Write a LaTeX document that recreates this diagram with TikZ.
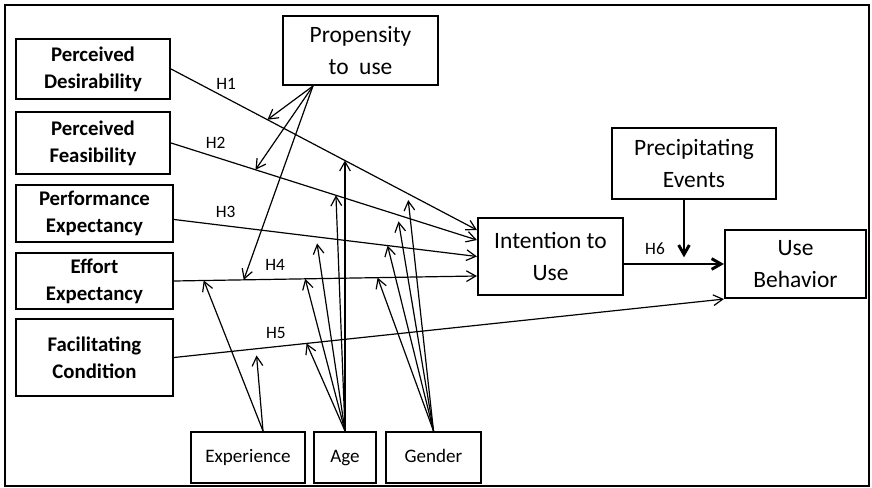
\documentclass[tikz,border=0pt]{standalone}
\usepackage{fontspec}
\setmainfont{Carlito}
\usetikzlibrary{positioning,arrows.meta,calc}

\begin{document}
\begin{tikzpicture}[x=0.75pt, y=-0.75pt, >={Straight Barb[length=7pt,width=8pt]},
  factor/.style={draw, line width=1.6pt, align=center, inner sep=0pt,
    font=\fontsize{15.6}{20.3}\selectfont\bfseries},
  construct/.style={draw, line width=1.6pt, align=center, inner sep=0pt,
    font=\fontsize{17.6}{23.5}\selectfont},
  moder/.style={draw, line width=1.6pt, inner sep=0pt, minimum height=38.25pt,
    text height=10pt, text depth=3pt, font=\fontsize{14.3}{17}\selectfont},
  wsize/.style 2 args={minimum width=#1, minimum height=#2},
  hyp/.style={->, line width=0.9pt},
  hlab/.style={above=2.5pt, font=\fontsize{13}{15}\selectfont}]
  \useasboundingbox (0,0) rectangle (872,488);
  \draw[line width=1.8pt] (5,5) rectangle (869,486);
  % antecedents
  \node[factor, wsize={115.5pt}{45pt}] (pd) at (93,69) {Perceived\\Desirability};
  \node[factor, wsize={115.5pt}{46.5pt}] (pf) at (93,143) {Perceived\\Feasibility};
  \node[factor, wsize={117.75pt}{42.75pt}] (pe) at (94.5,213.5) {Performance\\Expectancy};
  \node[factor, wsize={117.75pt}{42pt}] (ee) at (94.5,281) {Effort\\Expectancy};
  \node[factor, wsize={117.75pt}{57.75pt}] (fc) at (94.5,357.5) {Facilitating\\Condition};
  % constructs
  \node[construct, wsize={116.25pt}{51.75pt}] (prop) at (360.5,50.5) {Propensity\\to\ \ use};
  \node[construct, wsize={108.75pt}{57.75pt}] (itu) at (550.5,256.5) {Intention to\\Use};
  \node[construct, wsize={123pt}{53.25pt}] (pev) at (694,163.5) {Precipitating\\Events};
  \node[construct, wsize={105.75pt}{51pt}] (ub) at (795.5,264) {Use\\Behavior};
  % moderators
  \node[moder, minimum width=85.5pt] (exp) at (248,457.5) {Experience};
  \node[moder, minimum width=46.5pt] (age) at (345,457.5) {Age};
  \node[moder, minimum width=71.25pt] (gen) at (433.5,457.5) {Gender};
  \coordinate (pfoot) at ($(prop.south west)+(31,0)$);
  \coordinate (xfoot) at ($(exp.north)+(15,0)$);
  % hypotheses H1..H5
  \draw[hyp] (pd.east) -- node[hlab, pos=.18] {H1}
    coordinate[pos=.315] (h1p) coordinate[pos=.568] (h1a) coordinate[pos=.773] (h1g)
    ($(itu.west)+(0,-26.5)$);
  \draw[hyp] (pf.east) -- node[hlab, pos=.146] {H2}
    coordinate[pos=.276] (h2p) coordinate[pos=.539] (h2a) coordinate[pos=.74] (h2g)
    ($(itu.west)+(0,-16.5)$);
  \draw[hyp] ($(pe.east)+(0,6)$) -- node[hlab, pos=.17] {H3}
    coordinate[pos=.469] (h3a) coordinate[pos=.705] (h3g)
    (itu.west);
  \draw[hyp] (ee.east) -- node[hlab, pos=.334] {H4}
    coordinate[pos=.098] (h4x) coordinate[pos=.23] (h4p) coordinate[pos=.433] (h4a)
    coordinate[pos=.672] (h4g)
    ($(itu.west)+(0,19.5)$);
  \draw[hyp] (fc.east) -- node[hlab, pos=.185] {H5}
    coordinate[pos=.149] (h5x) coordinate[pos=.241] (h5a)
    (ub.south west);
  % H6 and precipitating events
  \draw[->, line width=2.2pt] (itu.east |- ub.west) -- node[hlab, pos=.31] {H6}
    coordinate[pos=.6] (h6m) (ub.west);
  \draw[->, line width=2.2pt, shorten >=5pt] (pev.south -| h6m) -- (h6m);
  % propensity to use
  \draw[hyp] (pfoot) -- (h1p); \draw[hyp] (pfoot) -- (h2p); \draw[hyp] (pfoot) -- (h4p);
  % experience
  \draw[hyp] (xfoot) -- (h4x); \draw[hyp, shorten >=5pt] (xfoot) -- (h5x);
  % age
  \draw[hyp] (age.north) -- (age.north |- h1a);
  \draw[hyp] (age.north) -- (h2a); \draw[hyp, shorten >=5pt] (age.north) -- (h3a);
  \draw[hyp] (age.north) -- (h4a); \draw[hyp] (age.north) -- (h5a);
  % gender
  \draw[hyp, shorten >=5pt] (gen.north) -- (h1g); \draw[hyp, shorten >=5pt] (gen.north) -- (h2g);
  \draw[hyp] (gen.north) -- (h3g); \draw[hyp] (gen.north) -- (h4g);
\end{tikzpicture}
\end{document}
